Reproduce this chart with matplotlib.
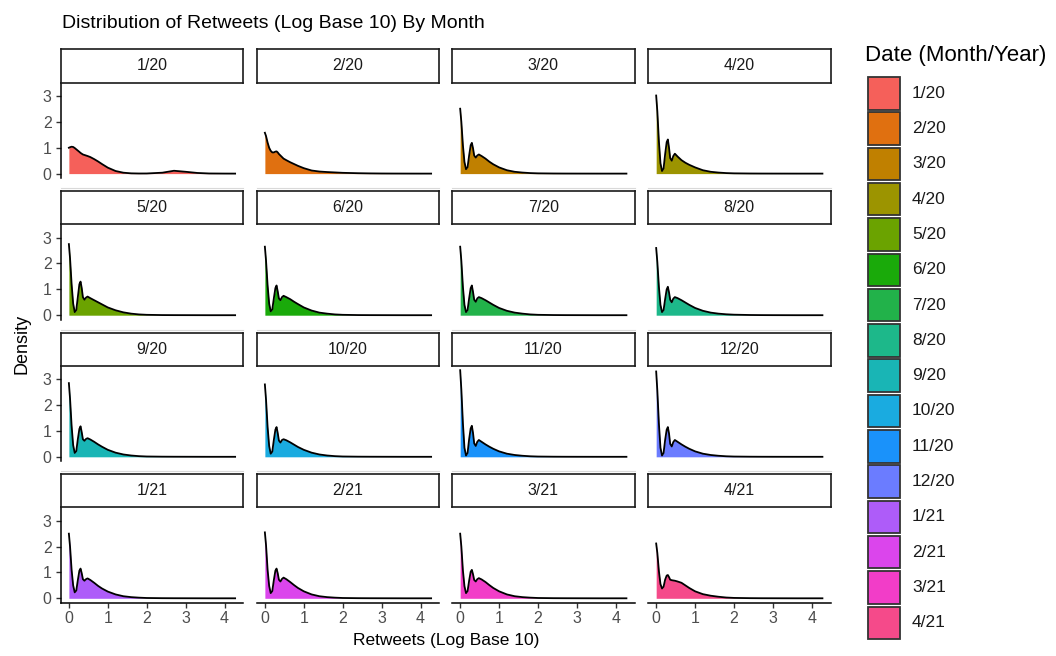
import matplotlib
matplotlib.use("Agg")
import matplotlib.pyplot as plt
from matplotlib.patches import Rectangle
from matplotlib.lines import Line2D

plt.rcParams['font.family'] = ['Liberation Sans', 'DejaVu Sans']

# ---------------- data ----------------
months = ["1/20", "2/20", "3/20", "4/20", "5/20", "6/20", "7/20", "8/20",
          "9/20", "10/20", "11/20", "12/20", "1/21", "2/21", "3/21", "4/21"]

x_grid = [0, .03, .07, .11, .15, .19, .23, .27, .30, .33, .36, .40, .44, .48, .55,
          .65, .75, .85, 1.0, 1.2, 1.4, 1.6, 1.8, 2.0, 2.4, 2.7, 3.0, 3.3, 3.6, 4.0, 4.27]

d_1_20 = [1.00, 1.02, 1.04, 1.03, 0.99, 0.94, 0.89, 0.84, 0.80, 0.77, 0.74, 0.72, 0.70, 0.68, 0.64,
          0.56, 0.47, 0.37, 0.23, 0.10, 0.035, 0.01, 0.004, 0.005, 0.035, 0.11, 0.07, 0.025, 0.005, 0.001, 0.0]
d_2_20 = [1.58, 1.45, 1.20, 1.00, 0.88, 0.82, 0.82, 0.85, 0.86, 0.82, 0.76, 0.70, 0.64, 0.58, 0.52,
          0.44, 0.37, 0.30, 0.21, 0.12, 0.08, 0.06, 0.045, 0.03, 0.015, 0.008, 0.004, 0.002, 0.001, 0, 0]
d_3_20 = [2.51, 2.00, 1.10, 0.45, 0.17, 0.25, 0.70, 1.10, 1.19, 0.98, 0.70, 0.62, 0.70, 0.74, 0.68,
          0.58, 0.46, 0.36, 0.24, 0.13, 0.07, 0.04, 0.02, 0.01, 0.004, 0.002, 0.001, 0.0005, 0, 0, 0]
d_4_20 = [3.02, 2.40, 1.25, 0.40, 0.10, 0.20, 0.75, 1.22, 1.32, 1.00, 0.60, 0.50, 0.68, 0.77, 0.66,
          0.52, 0.42, 0.34, 0.24, 0.13, 0.07, 0.04, 0.02, 0.01, 0.004, 0.002, 0.001, 0.0005, 0, 0, 0]
d_5_20 = [2.75, 2.20, 1.20, 0.45, 0.12, 0.20, 0.70, 1.20, 1.30, 1.05, 0.70, 0.60, 0.68, 0.72, 0.66,
          0.58, 0.50, 0.42, 0.30, 0.19, 0.11, 0.06, 0.03, 0.015, 0.005, 0.003, 0.002, 0.001, 0, 0, 0]
d_6_20 = [2.65, 2.10, 1.15, 0.45, 0.15, 0.22, 0.65, 1.05, 1.15, 0.92, 0.65, 0.58, 0.70, 0.75, 0.70,
          0.62, 0.52, 0.43, 0.30, 0.18, 0.10, 0.06, 0.03, 0.015, 0.005, 0.003, 0.002, 0.001, 0, 0, 0]
d_7_20 = [2.65, 2.10, 1.10, 0.40, 0.12, 0.20, 0.65, 1.05, 1.15, 0.90, 0.60, 0.52, 0.65, 0.70, 0.66,
          0.58, 0.49, 0.40, 0.28, 0.17, 0.10, 0.06, 0.03, 0.015, 0.006, 0.003, 0.002, 0.001, 0, 0, 0]
d_8_20 = [2.60, 2.05, 1.10, 0.40, 0.12, 0.20, 0.62, 1.00, 1.10, 0.88, 0.60, 0.50, 0.64, 0.70, 0.66,
          0.58, 0.49, 0.40, 0.28, 0.17, 0.10, 0.06, 0.035, 0.02, 0.008, 0.004, 0.002, 0.001, 0, 0, 0]
d_9_20 = [2.85, 2.25, 1.20, 0.45, 0.15, 0.22, 0.68, 1.08, 1.18, 0.95, 0.68, 0.62, 0.69, 0.72, 0.67,
          0.58, 0.48, 0.39, 0.27, 0.16, 0.09, 0.05, 0.025, 0.012, 0.005, 0.003, 0.002, 0.001, 0, 0, 0]
d_10_20 = [2.80, 2.20, 1.15, 0.42, 0.12, 0.20, 0.65, 1.05, 1.15, 0.92, 0.63, 0.55, 0.65, 0.68, 0.64,
           0.56, 0.47, 0.38, 0.27, 0.16, 0.09, 0.05, 0.025, 0.012, 0.005, 0.003, 0.002, 0.001, 0, 0, 0]
d_11_20 = [3.35, 2.60, 1.30, 0.35, 0.05, 0.15, 0.68, 1.10, 1.20, 0.92, 0.52, 0.42, 0.58, 0.65, 0.58,
           0.48, 0.39, 0.31, 0.21, 0.12, 0.07, 0.04, 0.02, 0.01, 0.004, 0.002, 0.001, 0.0005, 0, 0, 0]
d_12_20 = [3.30, 2.55, 1.28, 0.35, 0.05, 0.15, 0.65, 1.05, 1.15, 0.90, 0.50, 0.40, 0.57, 0.65, 0.58,
           0.48, 0.39, 0.31, 0.21, 0.12, 0.07, 0.04, 0.02, 0.01, 0.004, 0.002, 0.001, 0.0005, 0, 0, 0]
d_1_21 = [2.50, 2.00, 1.10, 0.50, 0.23, 0.30, 0.70, 1.07, 1.15, 0.97, 0.74, 0.68, 0.74, 0.77, 0.71,
          0.60, 0.48, 0.38, 0.26, 0.15, 0.08, 0.045, 0.025, 0.012, 0.005, 0.003, 0.002, 0.001, 0, 0, 0]
d_2_21 = [2.55, 2.05, 1.10, 0.48, 0.20, 0.28, 0.70, 1.07, 1.15, 0.97, 0.72, 0.65, 0.75, 0.80, 0.74,
          0.63, 0.51, 0.40, 0.27, 0.15, 0.08, 0.045, 0.025, 0.012, 0.005, 0.003, 0.002, 0.001, 0, 0, 0]
d_3_21 = [2.50, 2.00, 1.08, 0.47, 0.20, 0.28, 0.68, 1.03, 1.10, 0.93, 0.71, 0.65, 0.74, 0.78, 0.73,
          0.63, 0.51, 0.40, 0.27, 0.15, 0.08, 0.045, 0.025, 0.012, 0.005, 0.003, 0.002, 0.001, 0, 0, 0]
d_4_21 = [2.12, 1.75, 1.05, 0.55, 0.38, 0.45, 0.72, 0.88, 0.90, 0.82, 0.72, 0.70, 0.69, 0.68, 0.65,
          0.60, 0.50, 0.40, 0.27, 0.16, 0.10, 0.06, 0.03, 0.015, 0.006, 0.003, 0.002, 0.001, 0, 0, 0]

densities = [d_1_20, d_2_20, d_3_20, d_4_20, d_5_20, d_6_20, d_7_20, d_8_20,
             d_9_20, d_10_20, d_11_20, d_12_20, d_1_21, d_2_21, d_3_21, d_4_21]

colors = ["#F5605A", "#E07010", "#C08000", "#9C9400", "#6BA300", "#1AAA0A", "#22B24A", "#1DB88A",
          "#19B5B5", "#1AABE0", "#1A92FA", "#6B7CFF", "#AE5CF9", "#DB45EC", "#F23DC8", "#F54A8A"]

x_ticks = [0, 1, 2, 3, 4]
y_ticks = [0, 1, 2, 3]

# ---------------- layout ----------------
W, H = 1056, 656
fig = plt.figure(figsize=(W / 100, H / 100), dpi=100)


def rect(left, top, w, h):
    return [left / W, 1 - (top + h) / H, w / W, h / H]


col_left = [60.7, 256.7, 452.0, 648.0]
panel_w = 182.6
row_top = [49.3, 190.9, 332.5, 474.0]
strip_h = 33.3
panel_h = 95.4

tick_color = "#4D4D4D"

for i, (m, dens) in enumerate(zip(months, densities)):
    r, c = divmod(i, 4)
    ax = fig.add_axes(rect(col_left[c], row_top[r] + strip_h, panel_w, panel_h))
    ax.fill_between(x_grid, dens, 0, color=colors[i], lw=0)
    ax.plot(x_grid, dens, color="black", lw=1.3, solid_joinstyle="round")
    ax.set_xlim(-0.21, 4.48)
    ax.set_ylim(-0.17, 3.52)
    ax.patch.set_alpha(0)
    for s in ["top", "right"]:
        ax.spines[s].set_visible(False)
    ax.spines["left"].set_visible(c == 0)
    ax.spines["bottom"].set_visible(r == 3)
    for s in ["left", "bottom"]:
        ax.spines[s].set_linewidth(1.1)
        ax.spines[s].set_color("black")
    if c == 0:
        ax.set_yticks(y_ticks)
        ax.tick_params(axis="y", length=3.5, width=1.0, color="#333333",
                       labelsize=11.5, labelcolor=tick_color, pad=3)
    else:
        ax.set_yticks([])
    if r == 3:
        ax.set_xticks(x_ticks)
        ax.tick_params(axis="x", length=3.5, width=1.0, color="#333333",
                       labelsize=11.5, labelcolor=tick_color, pad=2.5)
    else:
        ax.set_xticks([])
        y_line = 1 - (row_top[r] + strip_h + panel_h + 10) / H
        fig.add_artist(Line2D([col_left[c] / W, (col_left[c] + panel_w) / W], [y_line, y_line],
                              color="#d9d9d9", lw=0.8))

    sax = fig.add_axes(rect(col_left[c], row_top[r], panel_w, strip_h))
    sax.set_xticks([])
    sax.set_yticks([])
    sax.set_facecolor("white")
    for s in sax.spines.values():
        s.set_linewidth(1.2)
        s.set_color("#1a1a1a")
    sax.text(0.5, 0.5, m, ha="center", va="center", fontsize=11.5, color="#1A1A1A",
             transform=sax.transAxes)

# titles
fig.text(62 / W, 1 - 23 / H, "Distribution of Retweets (Log Base 10) By Month",
         ha="left", va="center", fontsize=14, color="black")
fig.text(446 / W, 1 - 640 / H, "Retweets (Log Base 10)", ha="center", va="center",
         fontsize=12.5, color="black")
fig.text(22 / W, 1 - 344 / H, "Density", ha="center", va="center", rotation=90,
         fontsize=13, color="black")

# legend
lax = fig.add_axes([0, 0, 1, 1])
lax.set_xlim(0, W)
lax.set_ylim(H, 0)
lax.axis("off")
lax.text(865, 55, "Date (Month/Year)", ha="left", va="center", fontsize=16, color="black")
key_top0 = 77.0
pitch = 35.3
key = 32.5
for i, m in enumerate(months):
    top = key_top0 + i * pitch
    lax.add_patch(Rectangle((867.5, top), key, key, facecolor=colors[i],
                            edgecolor="#333333", lw=1.3))
    lax.text(912, top + key / 2, m, ha="left", va="center", fontsize=12.5, color="#1A1A1A")

fig.savefig("out.png", dpi=100)
